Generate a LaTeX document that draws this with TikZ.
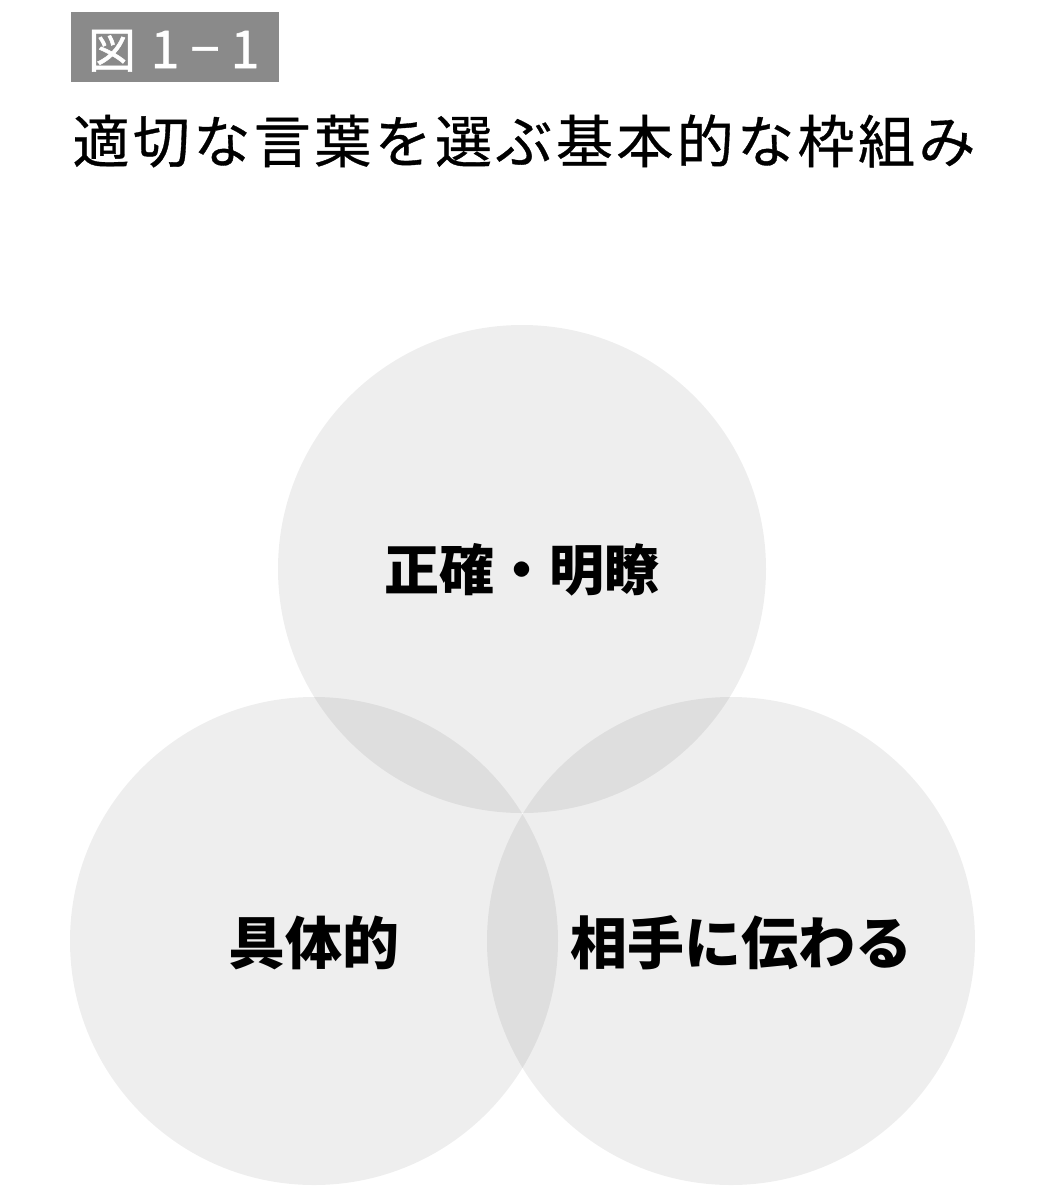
\documentclass[tikz,border=0pt]{standalone}
\usepackage{fontspec}
\newfontfamily\cjk{Noto Sans CJK JP}
\tikzset{
  venn/.style={circle, fill=black, fill opacity=0.065, draw=none, minimum size=488pt, inner sep=0pt},
  lbl/.style={font=\cjk\bfseries\fontsize{55pt}{55pt}\selectfont, text=black, inner sep=0pt},
  badge/.style={font=\cjk\addfontfeature{FakeBold=1.2}\fontsize{48pt}{48pt}\selectfont, text=white, inner sep=0pt, anchor=base},
  badgenum/.style={badge, font=\cjk\addfontfeature{FakeBold=1.0}\fontsize{52pt}{52pt}\selectfont},
}
\begin{document}
\begin{tikzpicture}[x=1pt,y=-1pt]
\useasboundingbox (0,0) rectangle (1051,1200);
\fill[white] (0,0) rectangle (1051,1200);
% badge
\fill[black!46] (71,12) rectangle (279,82);
\node[badge] (fig) at (112,68) {図};
\node[badgenum] (n1) at (165,68) {1};
\node[badgenum] (dash) at (205,68) {−};
\node[badgenum] (n2) at (245,68) {1};
% title
\node[inner sep=0pt, font=\cjk\addfontfeature{LetterSpace=6,FakeBold=0.6}\fontsize{57pt}{57pt}\selectfont] (title) at (524,141) {適切な言葉を選ぶ基本的な枠組み};
% circles
\node[venn] (top) at (522,569) {};
\node[venn] (bl) at (314,941) {};
\node[venn] (br) at (731,941) {};
% labels
\node[lbl] (t1) at (522,570) {正確・明瞭};
\node[lbl, font=\cjk\bfseries\fontsize{57pt}{57pt}\selectfont] (t2) at (314,943) {具体的};
\node[lbl, font=\cjk\bfseries\fontsize{57pt}{57pt}\selectfont] (t3) at (741,943) {相手に伝わる};
\end{tikzpicture}
\end{document}
